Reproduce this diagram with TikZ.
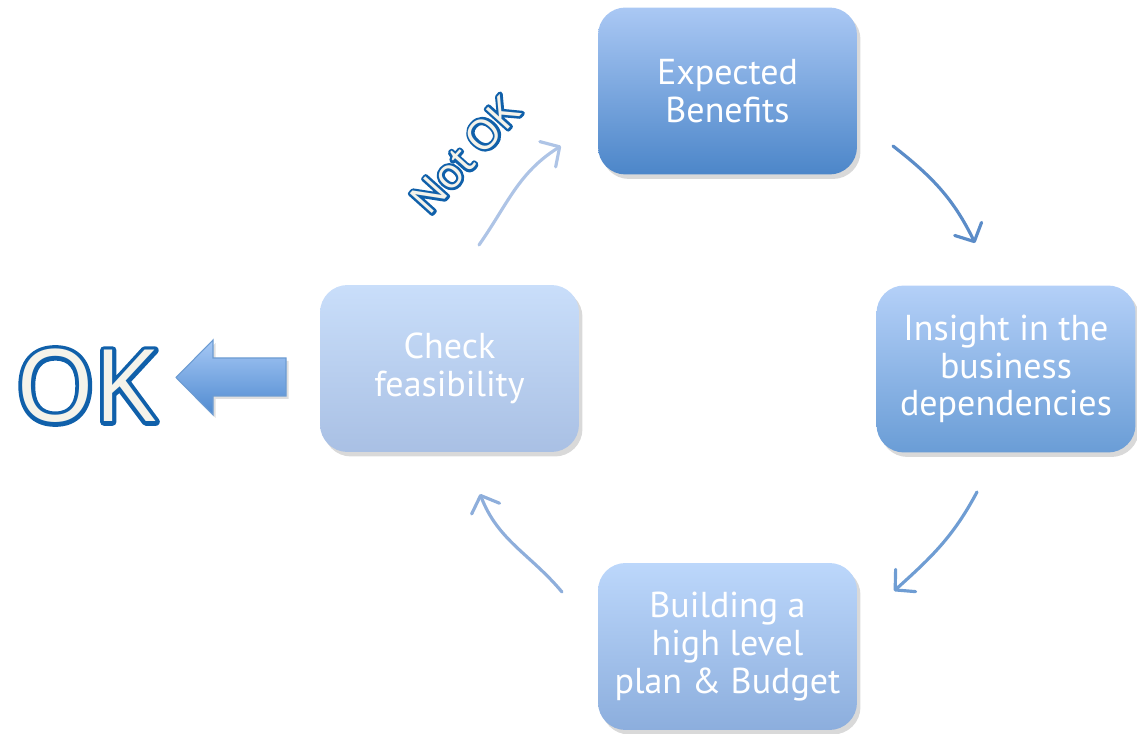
\documentclass[tikz,border=0pt]{standalone}
\usepackage{fontspec}
\usetikzlibrary{shadows,arrows.meta}
\newfontfamily\boxfont{PT Sans}
\newfontfamily\okfont{Open Sans}
\definecolor{ebtop}{HTML}{AAC8F4}\definecolor{ebbot}{HTML}{4C86C9}
\definecolor{instop}{HTML}{B4D0F8}\definecolor{insbot}{HTML}{6A9DD6}
\definecolor{budtop}{HTML}{BCD7FB}\definecolor{budbot}{HTML}{8CAEDD}
\definecolor{chktop}{HTML}{C9DEFA}\definecolor{chkbot}{HTML}{A9C0E4}
\definecolor{okfill}{HTML}{F5F3EA}
% blue stroke only, the cream letters go on top of it
\newcommand\stroked[2]{{\special{pdf:literal direct 1 Tr #2 w 1 J 1 j 0.063 0.376 0.667 RG}#1\special{pdf:literal direct 0 Tr}}}

\begin{document}
\begin{tikzpicture}[x=0.02cm,y=0.02cm,
    phase/.style={rounded corners=0.55cm,minimum width=5.18cm,minimum height=3.34cm,align=center,text=white,
        font=\boxfont\fontsize{20.5}{21.5}\selectfont,
        drop shadow={shadow xshift=0.07cm,shadow yshift=-0.09cm,opacity=0.3}},
    flow/.style={line width=1.8pt,line cap=round,-{Straight Barb[length=8pt,width=17pt,round]}}]
    \useasboundingbox (0,0) rectangle (1137,734);

    \foreach \name/\px/\py/\ctop/\cbot/\txt in {eb/727.5/643/ebtop/ebbot/{Expected\\Benefits},ins/1006/365/instop/insbot/{Insight in the\\business\\dependencies},bud/727.5/87.5/budtop/budbot/{Building a\\high level\\plan \& Budget},chk/449.5/365.5/chktop/chkbot/{Check\\feasibility}}{
        \node[phase,top color=\ctop,bottom color=\cbot] (\name) at (\px,\py) {\txt};
    }

    % arrows round the cycle
    \coordinate (a1) at (893,588); \coordinate (b1) at (975,491);
    \coordinate (a2) at (977,242); \coordinate (b2) at (894,143);
    \coordinate (a3) at (562,142); \coordinate (b3) at (480,240);
    \coordinate (a4) at (479,489); \coordinate (b4) at (561,588);
    \draw[flow,color={rgb,255:red,91;green,140;blue,200}] (a1) to[out=-38,in=116] (b1);
    \draw[flow,color={rgb,255:red,111;green,157;blue,211}] (a2) to[out=-118,in=42] (b2);
    \draw[flow,color={rgb,255:red,142;green,174;blue,219}] (a3) to[out=130,in=-69] (b3);
    \draw[flow,color={rgb,255:red,174;green,196;blue,230}] (a4) to[out=55,in=-148] (b4);

    % block arrow to OK
    \draw[line width=0.6pt,draw={rgb,255:red,109;green,156;blue,210},top color={rgb,255:red,166;green,200;blue,245},bottom color={rgb,255:red,79;green,138;blue,208},
        drop shadow={shadow xshift=0.05cm,shadow yshift=-0.06cm,opacity=0.25}]
        (176,356.5) -- (213,394) -- (213,376) -- (286,376) -- (286,338) -- (213,338) -- (213,319) -- cycle;

    \node[font=\okfont\fontsize{57}{57}\selectfont] (okline) at (86,348) {\stroked{OK}{4.6}};
    \node[font=\okfont\fontsize{57}{57}\selectfont,text=okfill] (ok) at (okline) {OK};
    \node[rotate=48,font=\okfont\fontsize{23.5}{23.5}\selectfont] (notokline) at (465,579) {\stroked{Not OK}{2.8}};
    \node[rotate=48,font=\okfont\fontsize{23.5}{23.5}\selectfont,text=okfill] (notok) at (notokline) {Not OK};
\end{tikzpicture}
\end{document}
